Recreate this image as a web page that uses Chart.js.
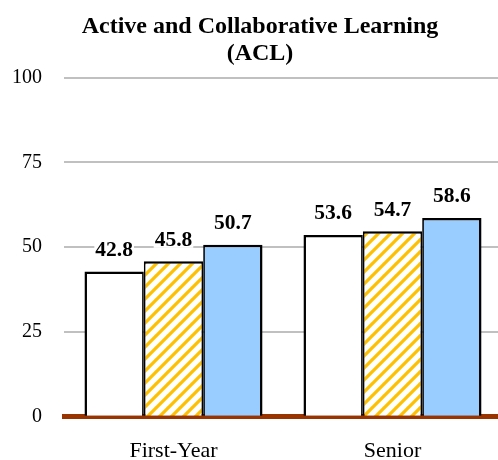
<!DOCTYPE html>
<html>
<head>
<meta charset="utf-8">
<script src="https://cdn.jsdelivr.net/npm/chart.js@4.4.1/dist/chart.umd.min.js"></script>
<style>
  html, body { margin: 0; padding: 0; overflow: hidden; background: #fff; }
  #wrap { width: 520px; height: 460px; position: relative; }
</style>
</head>
<body>
<div id="wrap"><canvas id="c" width="520" height="460"></canvas></div>
<script>
const categories = ['First-Year', 'Senior'];
const seriesA = [42.8, 53.6];
const seriesB = [45.8, 54.7];
const seriesC = [50.7, 58.6];
const titleLines = ['Active and Collaborative Learning', '(ACL)'];
const yTicks = [0, 25, 50, 75, 100];

const serif = '"Liberation Serif", "Times New Roman", serif';

function stripePattern() {
  const s = 12;
  const p = document.createElement('canvas');
  p.width = s; p.height = s;
  const g = p.getContext('2d');
  g.fillStyle = '#ffffff';
  g.fillRect(0, 0, s, s);
  g.strokeStyle = '#FFC000';
  g.lineWidth = 3.2;
  g.lineCap = 'square';
  for (let k = -1; k <= 1; k++) {
    g.beginPath();
    g.moveTo(k * s, s);
    g.lineTo(k * s + s, 0);
    g.stroke();
  }
  return document.getElementById('c').getContext('2d').createPattern(p, 'repeat');
}

// Title drawn centred at x = 260 (offset from the plot centre, as in the reference)
const chartTitle = {
  id: 'chartTitle',
  afterDraw(chart) {
    const ctx = chart.ctx;
    ctx.save();
    ctx.font = 'bold 24px ' + serif;
    ctx.fillStyle = '#000000';
    ctx.textAlign = 'center';
    ctx.textBaseline = 'alphabetic';
    const cx = chart.chartArea.left + 196;
    titleLines.forEach((line, i) => ctx.fillText(line, cx, 32.7 + i * 27.3));
    ctx.restore();
  }
};

const valueLabels = {
  id: 'valueLabels',
  afterDatasetsDraw(chart) {
    const ctx = chart.ctx;
    ctx.save();
    ctx.font = 'bold 21.5px ' + serif;
    ctx.textAlign = 'center';
    ctx.textBaseline = 'alphabetic';
    chart.data.datasets.forEach((ds, i) => {
      const meta = chart.getDatasetMeta(i);
      meta.data.forEach((bar, j) => {
        const txt = ds.data[j].toFixed(1);
        const w = ctx.measureText(txt).width;
        const by = bar.y - 15.5;
        ctx.fillStyle = '#ffffff';
        ctx.fillRect(bar.x - w / 2 - 1, by - 15, w + 2, 17);
        ctx.fillStyle = '#000000';
        ctx.fillText(txt, bar.x, by);
      });
    });
    ctx.restore();
  }
};

new Chart(document.getElementById('c'), {
  type: 'bar',
  data: {
    labels: categories,
    datasets: [
      { data: seriesA, backgroundColor: '#ffffff', borderColor: '#000000',
        borderWidth: { top: 2.5, left: 2.5, right: 1.75, bottom: 0 } },
      { data: seriesB, backgroundColor: stripePattern(), borderColor: '#000000',
        borderWidth: { top: 2.5, left: 1.75, right: 1.75, bottom: 0 } },
      { data: seriesC, backgroundColor: '#99CCFF', borderColor: '#000000',
        borderWidth: { top: 2.5, left: 1.75, right: 2.5, bottom: 0 } }
    ]
  },
  options: {
    responsive: false,
    animation: false,
    events: [],
    categoryPercentage: 0.813,
    barPercentage: 1,
    layout: { padding: { top: 77.5, right: 18, bottom: 0, left: 0 } },
    plugins: {
      legend: { display: false },
      tooltip: { enabled: false },
      title: { display: false }
    },
    scales: {
      x: {
        z: 1,
        grid: { display: false, drawTicks: false },
        border: { display: true, color: '#993300', width: 5 },
        ticks: { color: '#000000', padding: 21.2, font: { family: serif, size: 22 } },
        afterFit(scale) { scale.height = 43.3; }
      },
      y: {
        min: 0, max: 100,
        afterBuildTicks(scale) { scale.ticks = yTicks.map(v => ({ value: v })); },
        grid: { color: '#C0C0C0', lineWidth: 2, drawTicks: false },
        border: { display: false },
        ticks: { color: '#000000', padding: 22, font: { family: serif, size: 20 } },
        afterFit(scale) { scale.width = 64; }
      }
    }
  },
  plugins: [valueLabels, chartTitle]
});
</script>
</body>
</html>
